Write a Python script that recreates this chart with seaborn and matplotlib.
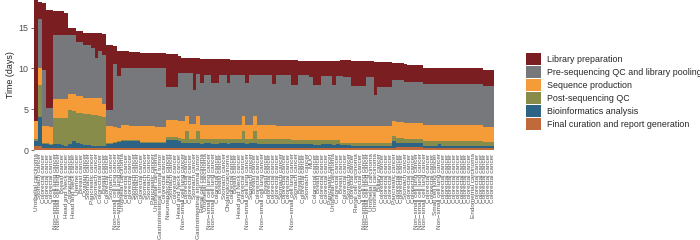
import numpy as np
import pandas as pd
import matplotlib
matplotlib.use("Agg")
import matplotlib.pyplot as plt
import seaborn as sns

NS = "Non\u2212small cell lung cancer"

labels = [
    "Urothelial carcinoma", "Stomach cancer", "Colorectal cancer", "Colorectal cancer", "Colorectal cancer",
    NS, NS, "Breast cancer", "Head and Neck cancer", "Colorectal cancer",
    "Head and Neck cancer", "Uterine cancer", "Breast cancer", "Ovarian cancer", "Stomach cancer",
    "Pancreatic cancer", "Stomach cancer", "Colorectal cancer", "Breast cancer", "Colorectal cancer",
    "Stomach cancer", NS, NS, "Urothelial carcinoma", "Colorectal cancer",
    "Colorectal cancer", "Stomach cancer", "Stomach cancer", "Colorectal cancer", "Stomach cancer",
    "Stomach cancer", "Pancreatic cancer", "Urothelial carcinoma", "Gastrointestinal stromal tumor", "Colorectal cancer",
    "Neuroendocrine cancer", "Stomach cancer", "Colorectal cancer", "Head and Neck cancer", NS,
    "Colorectal cancer", "Colorectal cancer", "Stomach cancer", "Gastrointestinal stromal tumor", "Renal cell carcinoma",
    "Urothelial carcinoma", NS, NS, "Colorectal cancer", "Breast cancer",
    "Stomach cancer", "Cholangiocarcinoma", "Colorectal cancer", "Breast cancer", "Head and Neck cancer",
    "Colorectal cancer", NS, "Stomach cancer", "Breast cancer", "Colorectal cancer",
    NS, "Breast cancer", "Colorectal cancer", "Colorectal cancer", "Colorectal cancer",
    "Stomach cancer", "Colorectal cancer", "Colorectal cancer", NS, "Stomach cancer",
    "Breast cancer", "Colorectal cancer", "Stomach cancer", "MUO", "Colorectal cancer",
    "Breast cancer", "Colorectal cancer", "Colorectal cancer", "Pancreatic cancer", "Urothelial carcinoma",
    "Colorectal cancer", "Breast cancer", "Colorectal cancer", "Stomach cancer", "Colorectal cancer",
    "Renal cell carcinoma", "Colorectal cancer", NS, NS, "Urothelial carcinoma",
    "Urothelial carcinoma", "Biliary cancer", "Colorectal cancer", "Colorectal cancer", "Colorectal cancer",
    "Pancreatic cancer", "Colorectal cancer", "Colorectal cancer", "Stomach cancer", "Colorectal cancer",
    "Colorectal cancer", NS, NS, NS, "Colorectal cancer",
    "Colorectal cancer", "Small cell lung cancer", NS, "Colorectal cancer", "Colorectal cancer",
    "Colorectal cancer", "Colorectal cancer", "Colorectal cancer", "Colorectal cancer", "Colorectal cancer",
    "Colorectal cancer", "Endometrial carcinoma", "Colorectal cancer", "Colorectal cancer", "Colorectal cancer",
    "Colorectal cancer", "Colorectal cancer",
]

# days per stage, one value per sample (bottom stage first)
curation = [
    .45, .5, .25, .25, .25, .25, .25, .25, .25, .3,
    .3, .25, .25, .25, .2, .2, .2, .2, .2, .3,
    .3, .3, .3, .3, .3, .3, .3, .3, .25, .25,
    .25, .25, .25, .25, .25, .3, .3, .3, .3, .3,
    .3, .3, .3, .3, .3, .3, .3, .3, .3, .3,
    .3, .3, .3, .3, .3, .3, .3, .3, .3, .3,
    .3, .3, .3, .3, .3, .3, .3, .3, .3, .3,
    .3, .3, .3, .3, .3, .3, .3, .3, .3, .25,
    .25, .25, .25, .25, .25, .25, .25, .25, .25, .25,
    .25, .25, .25, .25, .25, .3, .35, .35, .35, .35,
    .35, .35, .35, .25, .25, .25, .25, .3, .25, .25,
    .25, .25, .25, .25, .25, .25, .25, .25, .25, .25,
    .25, .25,
]
bioinfo = [
    .65, 3.6, .5, .45, .35, .5, .45, .35, .3, .45,
    .75, .55, .45, .4, .4, .35, .3, .3, .25, .45,
    .45, .55, .65, .75, .75, .75, .75, .75, .55, .55,
    .55, .55, .55, .55, .55, .95, .95, .95, .75, .55,
    .55, .5, .5, .5, .45, .5, .5, .45, .45, .5,
    .5, .45, .5, .5, .5, .5, .45, .5, .5, .45,
    .45, .45, .45, .4, .45, .45, .45, .45, .4, .4,
    .45, .45, .45, .4, .35, .35, .4, .4, .4, .4,
    .45, .35, .35, .35, .3, .3, .3, .3, .3, .3,
    .3, .3, .3, .3, .3, .85, .55, .55, .5, .5,
    .5, .5, .5, .3, .3, .3, .3, .4, .2, .2,
    .2, .2, .2, .2, .2, .2, .2, .2, .2, .2,
    .2, .2,
]
post_qc = [
    .25, 3.9, .1, .1, .1, 3.2, 3.25, 3.35, 3.4, 4.15,
    3.75, 3.8, 3.8, 3.8, 3.8, 3.8, 3.8, 3.7, 3.55, .1,
    .1, .1, .15, .15, .15, .15, .15, .15, .15, .15,
    .15, .15, .15, .15, .15, .4, .4, .4, .4, .55,
    1.45, .6, .55, 1.5, .6, .55, .55, .6, .6, .55,
    .55, .55, .5, .5, .5, 1.5, .55, .5, 1.5, .55,
    .55, .55, .55, .6, .55, .55, .55, .55, .55, .55,
    .5, .5, .5, .55, .6, .6, .55, .55, .55, .55,
    .5, .3, .3, .3, .35, .35, .35, .35, .35, .35,
    .3, .3, .3, .3, .3, .6, .55, .55, .55, .55,
    .55, .55, .55, .6, .6, .6, .6, .45, .6, .6,
    .6, .6, .6, .6, .6, .6, .6, .6, .6, .55,
    .55, .55,
]
sequencing = [
    2.15, 2.1, 2.15, 2.2, 2.1, 2.25, 2.25, 2.25, 2.25, 2.0,
    2.1, 2.0, 2.1, 1.95, 2.0, 2.05, 2.1, 2.2, 1.6, 2.05,
    2.05, 1.85, 1.65, 1.9, 1.85, 1.8, 1.8, 1.75, 2.0, 1.95,
    1.95, 1.95, 1.9, 1.9, 1.85, 2.05, 2.05, 2.05, 2.05, 2.1,
    1.9, 1.8, 1.85, 1.9, 1.75, 1.75, 1.75, 1.75, 1.75, 1.75,
    1.75, 1.8, 1.8, 1.8, 1.8, 1.9, 1.8, 1.8, 1.9, 1.75,
    1.75, 1.75, 1.75, 1.75, 1.7, 1.7, 1.7, 1.7, 1.75, 1.75,
    1.75, 1.75, 1.75, 1.75, 1.75, 1.75, 1.75, 1.75, 1.75, 1.75,
    1.75, 2.0, 2.0, 2.0, 2.0, 2.0, 2.0, 2.0, 2.0, 2.0,
    2.05, 2.05, 2.05, 2.05, 2.05, 1.85, 2.0, 2.0, 1.95, 1.95,
    1.95, 1.95, 1.95, 1.95, 1.95, 1.95, 1.95, 1.95, 2.0, 2.0,
    2.0, 2.0, 2.0, 2.0, 2.0, 2.0, 2.0, 2.0, 2.0, 1.8,
    1.8, 1.8,
]
pre_qc = [
    0, 6.0, 6.8, 2.1, 2.3, 7.9, 7.9, 7.9, 7.9, 7.2,
    7.2, 6.6, 6.6, 6.5, 6.5, 6.1, 4.9, 5.7, 6.1, 2.0,
    2.0, 7.8, 6.35, 7.0, 7.05, 7.1, 7.1, 7.15, 7.05, 7.1,
    7.1, 7.1, 7.15, 7.15, 7.2, 4.0, 4.0, 4.0, 5.9, 5.9,
    5.2, 6.2, 4.1, 5.1, 5.1, 6.1, 6.1, 5.1, 5.1, 6.1,
    6.1, 5.1, 6.1, 6.1, 6.1, 5.0, 5.1, 6.1, 5.0, 6.15,
    6.15, 6.15, 6.15, 5.05, 6.2, 6.2, 6.2, 6.2, 5.0, 5.0,
    6.2, 6.2, 6.2, 6.0, 5.0, 5.0, 6.1, 6.1, 6.1, 5.05,
    6.15, 6.2, 6.0, 6.0, 5.0, 5.0, 5.0, 5.0, 6.0, 6.0,
    3.9, 4.8, 4.8, 4.8, 4.8, 5.0, 5.15, 5.15, 4.95, 4.95,
    4.95, 4.95, 4.95, 5.0, 5.0, 5.0, 5.0, 5.0, 5.05, 5.05,
    5.05, 5.05, 5.05, 5.05, 5.05, 5.05, 5.05, 5.05, 5.05, 5.0,
    5.0, 5.0,
]
library = [
    14.9, 2.1, 8.2, 12.1, 12.1, 3.0, 3.0, 3.0, 2.7, .9,
    .9, 1.4, 1.4, 1.5, 1.5, 1.9, 3.0, 2.2, 2.5, 8.0,
    8.0, 2.2, 3.0, 2.0, 2.0, 1.9, 1.9, 1.9, 1.9, 1.9,
    1.9, 1.9, 1.9, 1.9, 1.9, 4.1, 4.1, 4.1, 2.1, 1.9,
    1.9, 1.9, 4.0, 2.0, 3.0, 2.0, 2.0, 3.0, 3.0, 2.0,
    2.0, 3.0, 1.9, 1.9, 1.9, 1.9, 2.9, 1.9, 1.9, 1.9,
    1.9, 1.85, 1.8, 2.9, 1.8, 1.8, 1.8, 1.8, 3.0, 3.0,
    1.75, 1.75, 1.75, 1.95, 2.9, 2.9, 1.8, 1.8, 1.8, 2.9,
    1.8, 1.9, 2.1, 2.1, 3.05, 3.05, 3.05, 3.05, 2.0, 2.0,
    4.0, 3.1, 3.1, 3.1, 3.1, 2.1, 2.1, 2.1, 2.3, 2.1,
    2.1, 2.1, 2.1, 2.0, 2.0, 2.0, 2.0, 2.0, 2.0, 2.0,
    2.0, 2.0, 2.0, 2.0, 2.0, 2.0, 2.0, 2.0, 1.9, 2.0,
    2.0, 2.0,
]

stage_names = [
    "Final curation and report generation",
    "Bioinformatics analysis",
    "Post-sequencing QC",
    "Sequence production",
    "Pre-sequencing QC and library pooling",
    "Library preparation",
]
stage_colors = ["#C06A3B", "#2D6384", "#878C4B", "#F59B37", "#77787B", "#7B1E22"]

df = pd.DataFrame({
    "id": [str(i) for i in range(len(labels))],
    stage_names[0]: curation,
    stage_names[1]: bioinfo,
    stage_names[2]: post_qc,
    stage_names[3]: sequencing,
    stage_names[4]: pre_qc,
    stage_names[5]: library,
})

sns.set_style("white")
plt.rcParams["font.family"] = ["Liberation Sans", "DejaVu Sans"]

fig = plt.figure(figsize=(7, 2.4), dpi=100)
ax = fig.add_axes([0.049, 0.375, 0.657, 0.625])

bottom = np.zeros(len(df))
for name, col in zip(stage_names, stage_colors):
    sns.barplot(data=df, x="id", y=name, color=col, saturation=1, width=1,
                errorbar=None, bottom=bottom, linewidth=0, edgecolor="none",
                label=name, ax=ax)
    bottom = bottom + df[name].values

ax.set_xlim(-0.5, len(df) - 0.5)
ax.set_ylim(0, 18.4)
ax.set_yticks([0, 5, 10, 15])
ax.set_xticks(range(len(labels)))
ax.set_xticklabels(labels, rotation=90, fontsize=4.6, color="#555555")
ax.tick_params(axis="x", length=1.5, width=0.4, color="#555555", pad=1)
ax.tick_params(axis="y", labelsize=6.4, labelcolor="#4d4d4d", length=2.5,
               width=0.5, color="#333333", pad=1.5, left=True)
ax.set_xlabel("")
ax.set_ylabel("Time (days)", fontsize=6.4, color="#222222", labelpad=3)
for s in ax.spines.values():
    s.set_visible(False)

h, l = ax.get_legend_handles_labels()
ax.legend(h[::-1], l[::-1], loc="upper left", bbox_to_anchor=(526 / 700, 1 - 53 / 240),
          bbox_transform=fig.transFigure, frameon=False, fontsize=6.4,
          handlelength=1.69, handleheight=1.69, labelspacing=0.12,
          handletextpad=0.64, borderpad=0, borderaxespad=0)

fig.savefig("out.png", dpi=100)
